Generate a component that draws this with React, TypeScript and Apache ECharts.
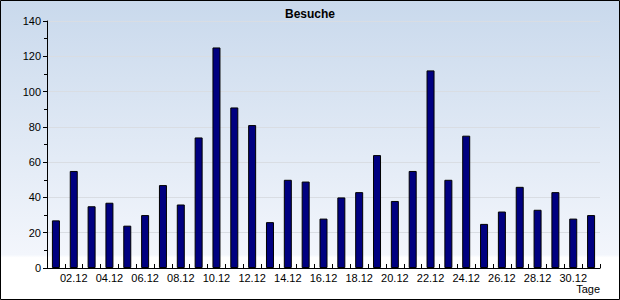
import React, { useEffect, useRef } from "react";
import * as echarts from "echarts";

const categories = [
  "01.12", "02.12", "03.12", "04.12", "05.12", "06.12", "07.12", "08.12",
  "09.12", "10.12", "11.12", "12.12", "13.12", "14.12", "15.12", "16.12",
  "17.12", "18.12", "19.12", "20.12", "21.12", "22.12", "23.12", "24.12",
  "25.12", "26.12", "27.12", "28.12", "29.12", "30.12", "31.12",
];
const visits = [
  27, 55, 35, 37, 24, 30, 47, 36, 74, 125, 91, 81, 26, 50, 49, 28,
  40, 43, 64, 38, 55, 112, 50, 75, 25, 32, 46, 33, 43, 28, 30,
];
const titleText = "Besuche";
const xName = "Tage";

export default function App() {
  const ref = useRef<HTMLDivElement>(null);
  useEffect(() => {
    document.body.style.margin = "0";
    const chart = echarts.init(ref.current!, null, { renderer: "svg" });
    const font = "Liberation Sans, Arial, sans-serif";
    chart.setOption({
      animation: false,
      title: {
        text: titleText,
        left: "center",
        top: 3,
        textStyle: { fontFamily: font, fontSize: 12, fontWeight: "bold", color: "#000" },
      },
      graphic: [
        {
          type: "rect",
          z: -100,
          silent: true,
          shape: { x: 0.5, y: 0.5, width: 619, height: 299 },
          style: {
            fill: new echarts.graphic.LinearGradient(0, 0, 0, 1, [
              { offset: 0, color: "#c9d9ec" },
              { offset: 0.85, color: "#f3f6fc" },
              { offset: 0.86, color: "#ffffff" },
              { offset: 1, color: "#ffffff" },
            ]),
            stroke: "#000",
            lineWidth: 1,
          },
        },
        {
          type: "text",
          right: 20,
          top: 283,
          style: { text: xName, fontFamily: font, fontSize: 11, fill: "#000" },
        },
      ],
      grid: { left: 47, right: 20, top: 21, bottom: 32 },
      xAxis: {
        type: "category",
        data: categories,
        axisLine: { lineStyle: { color: "#000", width: 1 } },
        axisTick: { show: true, inside: true, length: 4, interval: 0, lineStyle: { color: "#000" } },
        axisLabel: {
          interval: (i: number) => i % 2 === 1,
          fontFamily: font,
          fontSize: 11,
          color: "#000",
          margin: 4,
        },
      },
      yAxis: {
        type: "value",
        min: 0,
        max: 140,
        interval: 20,
        axisLine: { show: true, lineStyle: { color: "#000", width: 1 } },
        axisTick: { show: true, length: 4, lineStyle: { color: "#000" } },
        minorTick: { show: true, splitNumber: 2, length: 3, lineStyle: { color: "#000" } },
        axisLabel: { fontFamily: font, fontSize: 11, color: "#000", margin: 6 },
        splitLine: { show: true, lineStyle: { color: "#d9dde3", width: 1 } },
      },
      series: [
        {
          type: "bar",
          data: visits,
          barWidth: 8,
          itemStyle: { color: "#000080", borderColor: "#000", borderWidth: 1 },
        },
      ],
    });
    return () => chart.dispose();
  }, []);
  return (
    <div
      ref={ref}
      style={{ position: "absolute", left: 0, top: 0, width: 620, height: 300 }}
    />
  );
}
